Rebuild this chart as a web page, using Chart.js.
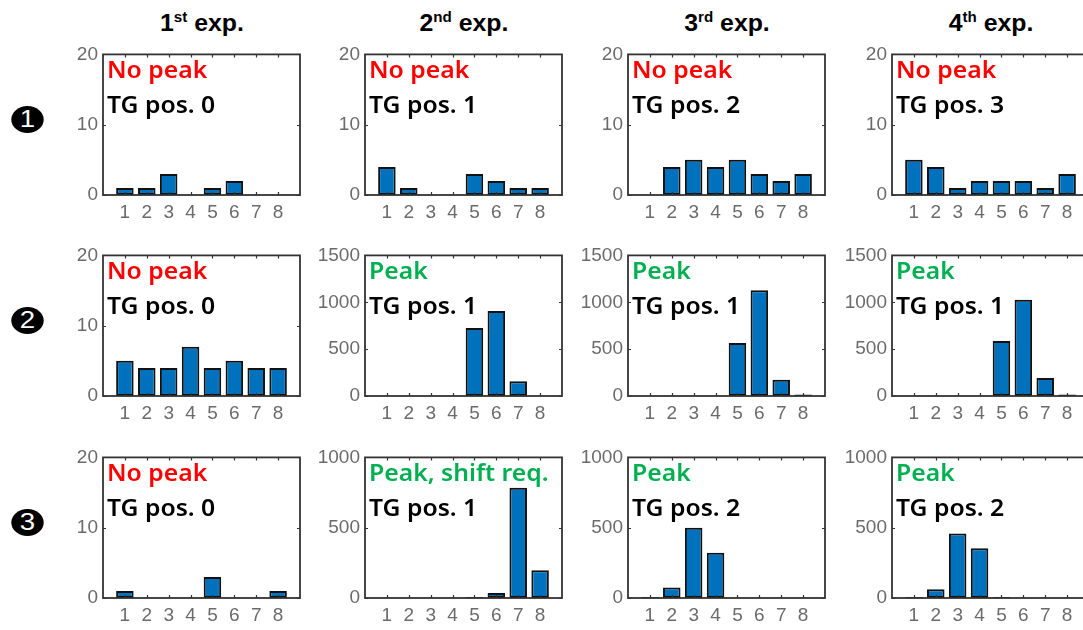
<!DOCTYPE html>
<html>
<head>
    <title>TG position experiments</title>
    <script src="https://cdn.jsdelivr.net/npm/chart.js"></script>
    <style>
        body {
            margin: 0;
            background: #fff;
            width: 1083px;
            height: 630px;
            overflow: hidden;
            position: relative;
        }

        .exp-title {
            position: absolute;
            width: 200px;
            text-align: center;
            font: bold 23px "Liberation Sans", Arial, sans-serif;
            line-height: 24px;
            color: #000;
            transform: scaleX(1.08);
        }

        .exp-title sup {
            font-size: 14px;
            vertical-align: 9px;
            line-height: 0;
        }

        .row-mark {
            position: absolute;
            width: 27px;
            height: 27px;
            border-radius: 50%;
            background: #000;
            color: #fff;
            font: 23px "Liberation Sans", Arial, sans-serif;
            line-height: 27px;
            text-align: center;
            transform: scaleX(1.2);
        }

        canvas {
            position: absolute;
        }
    </style>
</head>
<body>
    <script>
        // data
        const positions = [1, 2, 3, 4, 5, 6, 7, 8];
        const expNumbers = ['1', '2', '3', '4'];
        const expSuffix = ['st', 'nd', 'rd', 'th'];
        const rowMarks = ['1', '2', '3'];

        // row 1
        const r1e1 = [1, 1, 3, 0, 1, 2, 0, 0];
        const r1e2 = [4, 1, 0, 0, 3, 2, 1, 1];
        const r1e3 = [0, 4, 5, 4, 5, 3, 2, 3];
        const r1e4 = [5, 4, 1, 2, 2, 2, 1, 3];
        const row1Status = ['No peak', 'No peak', 'No peak', 'No peak'];
        const row1Tg = [0, 1, 2, 3];
        const row1YMax = [20, 20, 20, 20];

        // row 2
        const r2e1 = [5, 4, 4, 7, 4, 5, 4, 4];
        const r2e2 = [0, 0, 0, 0, 725, 907, 157, 0];
        const r2e3 = [0, 0, 0, 0, 565, 1127, 174, 15];
        const r2e4 = [0, 0, 0, 0, 586, 1026, 192, 15];
        const row2Status = ['No peak', 'Peak', 'Peak', 'Peak'];
        const row2Tg = [0, 1, 1, 1];
        const row2YMax = [20, 1500, 1500, 1500];

        // row 3
        const r3e1 = [1, 0, 0, 0, 3, 0, 0, 1];
        const r3e2 = [0, 0, 0, 0, 7, 35, 784, 198];
        const r3e3 = [7, 74, 500, 321, 0, 0, 0, 0];
        const r3e4 = [7, 63, 458, 353, 7, 0, 0, 0];
        const row3Status = ['No peak', 'Peak, shift req.', 'Peak', 'Peak'];
        const row3Tg = [0, 1, 2, 2];
        const row3YMax = [20, 1000, 1000, 1000];

        const rows = [
            { values: [r1e1, r1e2, r1e3, r1e4], status: row1Status, tg: row1Tg, ymax: row1YMax },
            { values: [r2e1, r2e2, r2e3, r2e4], status: row2Status, tg: row2Tg, ymax: row2YMax },
            { values: [r3e1, r3e2, r3e3, r3e4], status: row3Status, tg: row3Tg, ymax: row3YMax }
        ];

        // layout
        const colLeft = [103, 365, 628, 892];
        const rowTop = [52, 253, 455];
        const plotW = 197;
        const plotH = 143;
        const yAxisW = 50;
        const xAxisH = 34;
        const padTop = 14;
        const padRight = 6;

        const tickColor = '#6b6b6b';
        const boxColor = '#333333';

        // titles
        expNumbers.forEach((n, c) => {
            const d = document.createElement('div');
            d.className = 'exp-title';
            d.style.left = (colLeft[c] + plotW / 2 - 100) + 'px';
            d.style.top = '11px';
            d.innerHTML = n + '<sup>' + expSuffix[c] + '</sup> exp.';
            document.body.appendChild(d);
        });

        // row markers
        rowMarks.forEach((m, r) => {
            const d = document.createElement('div');
            d.className = 'row-mark';
            d.style.left = '14px';
            d.style.top = (rowTop[r] + plotH / 2 - 18) + 'px';
            d.textContent = m;
            document.body.appendChild(d);
        });

        // MATLAB style box, inward ticks and the two notes
        const matlabAxes = {
            id: 'matlabAxes',
            afterDatasetsDraw(chart, args, opts) {
                const { ctx, chartArea: a } = chart;
                const xs = chart.scales.x;
                const ys = chart.scales.y;
                ctx.save();
                ctx.strokeStyle = boxColor;
                ctx.lineWidth = 1.2;
                ctx.beginPath();
                xs.ticks.forEach(t => {
                    if (t.value < 1 || t.value > 8) return;
                    const px = Math.round(xs.getPixelForValue(t.value)) + 0.5;
                    ctx.moveTo(px, a.bottom);
                    ctx.lineTo(px, a.bottom - 3);
                    ctx.moveTo(px, a.top);
                    ctx.lineTo(px, a.top + 3);
                });
                ys.ticks.forEach(t => {
                    const py = Math.round(ys.getPixelForValue(t.value)) + 0.5;
                    ctx.moveTo(a.left, py);
                    ctx.lineTo(a.left + 3, py);
                    ctx.moveTo(a.right, py);
                    ctx.lineTo(a.right - 3, py);
                });
                ctx.stroke();
                ctx.lineWidth = 1.8;
                ctx.strokeRect(a.left, a.top, a.right - a.left, a.bottom - a.top);

                ctx.font = '600 24px "Noto Sans", sans-serif';
                ctx.textBaseline = 'alphabetic';
                ctx.textAlign = 'left';
                ctx.translate(a.left + 4, a.top + 24);
                ctx.scale(1.03, 1);
                ctx.fillStyle = opts.status === 'No peak' ? '#ff0000' : '#00b050';
                ctx.fillText(opts.status, 0, 0);
                ctx.fillStyle = '#000';
                ctx.fillText('TG pos. ' + opts.tg, 0, 35);
                ctx.restore();
            }
        };

        rows.forEach((row, r) => {
            row.values.forEach((vals, c) => {
                const cv = document.createElement('canvas');
                cv.width = yAxisW + plotW + padRight;
                cv.height = padTop + plotH + xAxisH;
                cv.style.left = (colLeft[c] - yAxisW) + 'px';
                cv.style.top = (rowTop[r] - padTop) + 'px';
                document.body.appendChild(cv);

                const ymax = row.ymax[c];
                new Chart(cv.getContext('2d'), {
                    type: 'bar',
                    data: {
                        datasets: [{
                            data: positions.map((p, i) => ({ x: p, y: vals[i] })),
                            backgroundColor: '#0072bd',
                            borderColor: '#111111',
                            borderWidth: 2,
                            borderSkipped: false,
                            categoryPercentage: 1,
                            barPercentage: 0.8
                        }]
                    },
                    options: {
                        responsive: false,
                        animation: false,
                        devicePixelRatio: 1,
                        layout: { padding: { top: padTop, right: padRight, left: 0, bottom: 0 } },
                        plugins: {
                            legend: { display: false },
                            tooltip: { enabled: false },
                            matlabAxes: { status: row.status[c], tg: row.tg[c] }
                        },
                        scales: {
                            x: {
                                type: 'linear',
                                min: 0,
                                max: 9,
                                offset: false,
                                grid: { display: false, offset: false, drawTicks: false },
                                border: { display: false },
                                ticks: {
                                    stepSize: 1,
                                    autoSkip: false,
                                    maxRotation: 0,
                                    padding: 6,
                                    color: tickColor,
                                    font: { family: '"Liberation Sans", Arial', size: 19 },
                                    callback: v => (v >= 1 && v <= 8) ? String(v) : ''
                                },
                                afterFit: s => { s.height = xAxisH; }
                            },
                            y: {
                                min: 0,
                                max: ymax,
                                grid: { display: false, drawTicks: false },
                                border: { display: false },
                                ticks: {
                                    stepSize: ymax === 20 ? 10 : 500,
                                    padding: 5,
                                    color: tickColor,
                                    font: { family: '"Liberation Sans", Arial', size: 19 },
                                    callback: v => String(v)
                                },
                                afterFit: s => { s.width = yAxisW; }
                            }
                        }
                    },
                    plugins: [matlabAxes]
                });
            });
        });
    </script>
</body>
</html>
